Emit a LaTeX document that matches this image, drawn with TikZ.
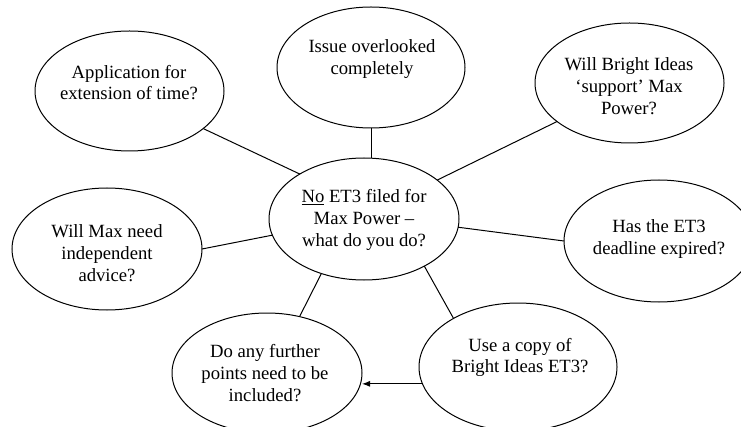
\documentclass[tikz,border=0pt]{standalone}
\usepackage{fontspec}
\setmainfont{Liberation Serif}
\usetikzlibrary{shapes.geometric,arrows.meta}

\tikzset{
  bub/.style={ellipse, draw, line width=0.75pt, inner sep=0pt, outer sep=0pt,
              minimum width=142.5pt, minimum height=90pt},
  txt/.style={align=center, inner sep=0pt, font=\fontsize{14}{16.4}\selectfont},
  link/.style={line width=0.75pt},
  arr/.style={line width=0.75pt, -{Latex[length=6pt,width=4.5pt]}}
}

\begin{document}
\begin{tikzpicture}[x=0.75pt,y=-0.75pt]
  \useasboundingbox (0,0) rectangle (741,427);
  \clip (0,0) rectangle (741,427);

  % bubbles
  \node[bub, minimum height=91.5pt] (c) at (364,219) {};
  \node[bub, minimum width=141pt, minimum height=90.75pt] (i) at (371,67.5) {};
  \node[bub, minimum width=141.75pt] (a) at (129.5,91) {};
  \node[bub, minimum width=141.75pt] (b) at (629.5,83) {};
  \node[bub, minimum height=91.5pt] (m) at (107,249) {};
  \node[bub, minimum height=91.5pt] (h) at (659,241) {};
  \node[bub] (d) at (267,373) {};
  \node[bub, minimum width=148.5pt, minimum height=96pt] (u) at (518,367) {};

  % texts
  \node[txt] (ct) at (364,220) {\underline{No} ET3 filed for\\Max Power –\\what do you do?};
  \node[txt] (it) at (372,59) {Issue overlooked\\completely};
  \node[txt] (at) at (129,82.5) {Application for\\extension of time?};
  \node[txt] (bt) at (629,86) {Will Bright Ideas\\‘support’ Max\\Power?};
  \node[txt] (mt) at (107,253) {Will Max need\\independent\\advice?};
  \node[txt] (ht) at (659,239) {Has the ET3\\deadline expired?};
  \node[txt] (dt) at (265,373) {Do any further\\points need to be\\included?};
  \node[txt] (ut) at (520,357.5) {Use a copy of\\Bright Ideas ET3?};

  % connectors
  \draw[link] (a.-27) -- (c.145);
  \draw[link] (i.south) -- (i.south |- c.north);
  \draw[link] (b.208) -- (c.28);
  \draw[link] (m.east) -- (c.190);
  \draw[link] (h.west) -- (c.-5);
  \draw[link] (d.60) -- (c.232);
  \draw[link] (u.143) -- (c.-38);
  \draw[arr] (u.190) -- (u.190 -| d.east);
\end{tikzpicture}
\end{document}
